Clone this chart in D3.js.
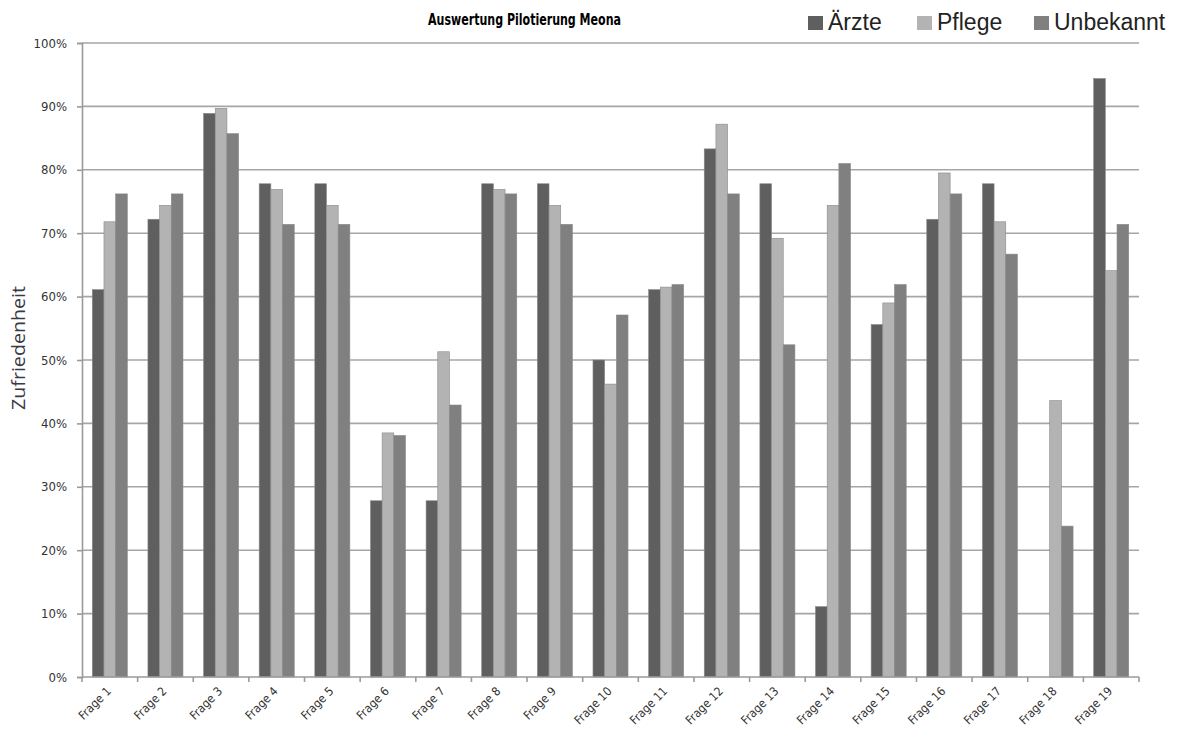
<!DOCTYPE html>
<html><head><meta charset="utf-8">
<script src="https://cdn.jsdelivr.net/npm/d3@7"></script>
<style>body{margin:0;background:#fff;}svg{display:block;}</style>
</head><body><svg id="c" width="1179" height="729"></svg>
<script>
const categories = ["Frage 1","Frage 2","Frage 3","Frage 4","Frage 5","Frage 6","Frage 7","Frage 8","Frage 9","Frage 10","Frage 11","Frage 12","Frage 13","Frage 14","Frage 15","Frage 16","Frage 17","Frage 18","Frage 19"];
const seriesNames = ["Ärzte","Pflege","Unbekannt"];
const aerzte    = [61.1,72.2,88.9,77.8,77.8,27.8,27.8,77.8,77.8,50.0,61.1,83.3,77.8,11.1,55.6,72.2,77.8,0,94.4];
const pflege    = [71.8,74.4,89.7,76.9,74.4,38.5,51.3,76.9,74.4,46.2,61.5,87.2,69.2,74.4,59.0,79.5,71.8,43.6,64.1];
const unbekannt = [76.2,76.2,85.7,71.4,71.4,38.1,42.9,76.2,71.4,57.1,61.9,76.2,52.4,81.0,61.9,76.2,66.7,23.8,71.4];
const yTicks = [0,10,20,30,40,50,60,70,80,90,100];
const colors = ["#5f5f5f","#b3b3b3","#808080"];

(function(){
const svg = d3.select("#c");
const font = "'Liberation Sans Narrow','DejaVu Sans Condensed',Arial,sans-serif";
const pl = 82, pr = 1139, pt = 43, pb = 677;
const x = d3.scaleBand().domain(categories).range([pl,pr]).paddingInner(0.37).paddingOuter(0.185);
const xs = d3.scaleBand().domain(seriesNames).range([0,x.bandwidth()]);
const y = d3.scaleLinear().domain([0,100]).range([pb,pt]);
const values = [aerzte,pflege,unbekannt];

svg.append("g").selectAll("line").data(yTicks.filter(d=>d>0)).join("line")
  .attr("x1",pl).attr("x2",pr).attr("y1",d=>y(d)).attr("y2",d=>y(d))
  .attr("stroke","#a6a6a6").attr("stroke-width",1.6);

const data = [];
categories.forEach((c,i)=>seriesNames.forEach((s,j)=>data.push({c,s,v:values[j][i],j})));
svg.append("g").selectAll("rect").data(data.filter(d=>d.v>0)).join("rect")
  .attr("x",d=>x(d.c)+xs(d.s)).attr("width",xs.bandwidth())
  .attr("y",d=>y(d.v)).attr("height",d=>pb-y(d.v))
  .attr("fill",d=>colors[d.j]).attr("stroke","#8a8a8a").attr("stroke-width",0.6);

const ya = svg.append("g").attr("transform",`translate(${pl},0)`)
  .call(d3.axisLeft(y).tickValues(yTicks).tickFormat(d=>d+"%").tickSize(5).tickPadding(10));
ya.select(".domain").attr("stroke","#9a9a9a").attr("stroke-width",1.6);
ya.selectAll(".tick line").attr("stroke","#9a9a9a").attr("stroke-width",1.6);
ya.selectAll("text").attr("font-family",font).attr("font-size",13).attr("fill","#333");

svg.append("line").attr("x1",pl).attr("x2",pr).attr("y1",pb).attr("y2",pb)
  .attr("stroke","#9a9a9a").attr("stroke-width",1.6);
const bounds = d3.range(categories.length+1).map(i=>pl+i*(pr-pl)/categories.length);
svg.append("g").selectAll("line").data(bounds).join("line")
  .attr("x1",d=>d).attr("x2",d=>d).attr("y1",pb).attr("y2",pb+5)
  .attr("stroke","#9a9a9a").attr("stroke-width",1.6);
svg.append("g").selectAll("text").data(categories).join("text")
  .attr("transform",d=>`translate(${x(d)+x.bandwidth()/2+2},${pb+15}) rotate(-45)`)
  .attr("text-anchor","end").attr("font-family",font).attr("font-size",12).attr("fill","#333")
  .text(d=>d);

svg.append("text").attr("transform","translate(25,348) rotate(-90)").attr("text-anchor","middle")
  .attr("font-family","'Open Sans','DejaVu Sans',sans-serif").attr("font-size",19).attr("fill","#3a3a45")
  .attr("textLength",124).attr("lengthAdjust","spacingAndGlyphs")
  .text("Zufriedenheit");

svg.append("text").attr("x",428).attr("y",25)
  .attr("font-family",font).attr("font-weight","bold").attr("font-size",16).attr("fill","#000")
  .attr("textLength",193).attr("lengthAdjust","spacingAndGlyphs")
  .text("Auswertung Pilotierung Meona");

const legX = [808,917,1034];
const lg = svg.append("g").selectAll("g").data(seriesNames).join("g")
  .attr("transform",(d,i)=>`translate(${legX[i]},0)`);
lg.append("rect").attr("x",0).attr("y",16).attr("width",15).attr("height",14).attr("fill",(d,i)=>colors[i]);
lg.append("text").attr("x",20).attr("y",30).attr("font-family","'Liberation Sans',Arial,sans-serif").attr("font-size",23).attr("fill","#222").text(d=>d);
})();
</script></body></html>
